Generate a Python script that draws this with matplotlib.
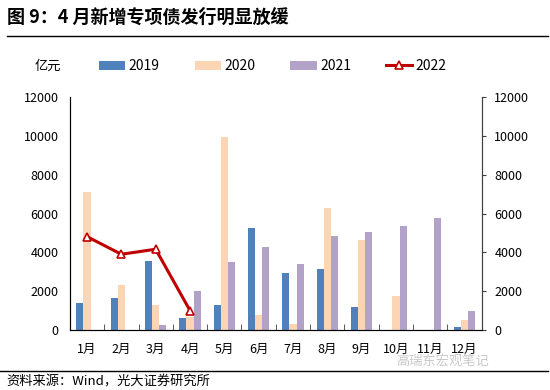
import matplotlib.pyplot as plt
import numpy as np

plt.rcParams['font.family'] = ['Noto Sans CJK SC', 'DejaVu Sans']

months = ['1月', '2月', '3月', '4月', '5月', '6月', '7月', '8月', '9月', '10月', '11月', '12月']
y2019 = [1380, 1630, 3540, 600, 1270, 5240, 2950, 3150, 1200, 0, 0, 140]
y2020 = [7110, 2320, 1290, 650, 9950, 770, 310, 6290, 4640, 1770, 0, 520]
y2021 = [0, 0, 240, 2030, 3490, 4280, 3390, 4860, 5070, 5340, 5760, 980]
y2022 = [4810, 3900, 4160, 1000]
yticks = [0, 2000, 4000, 6000, 8000, 10000, 12000]

fig = plt.figure(figsize=(5.5, 3.9), dpi=100)
ax = fig.add_axes([0.127, 0.154, 0.749, 0.597])
x = np.arange(len(months))
w = 0.21
b1 = ax.bar(x - w, y2019, w, color='#4F81BD', label='2019')
b2 = ax.bar(x, y2020, w, color='#FCD5B5', label='2020')
b3 = ax.bar(x + w, y2021, w, color='#B3A2C7', label='2021')
l4, = ax.plot(x[:len(y2022)], y2022, color='#C00000', lw=2.2, marker='^', ms=6,
              mfc='white', mec='#C00000', mew=1.2, label='2022')

ax.set_xlim(-0.5, 11.5)
ax.set_ylim(0, 12000)
ax.set_yticks(yticks)
ax.set_xticks(x)
ax.set_xticklabels(months, fontsize=9)
ax.set_xticks(np.arange(0.5, 11, 1), minor=True)
ax.tick_params(axis='x', which='major', length=0, pad=9)
ax.tick_params(axis='x', which='minor', direction='in', length=4, color='#404040')
ax.tick_params(axis='y', labelsize=9, length=0, pad=8)
ax.spines['top'].set_visible(False)
for s in ['left', 'bottom', 'right']:
    ax.spines[s].set_color('#404040')

ax2 = ax.twinx()
ax2.set_ylim(0, 12000)
ax2.set_yticks(yticks)
ax2.tick_params(axis='y', labelsize=9, length=3, color='#404040', pad=6)
ax2.spines['top'].set_visible(False)
ax2.spines['right'].set_color('#404040')

fig.text(0.012, 0.955, '图 9：4 月新增专项债发行明显放缓', fontsize=13, fontweight='bold', va='center')
fig.add_artist(plt.Line2D([0.012, 0.997], [0.908, 0.908], color='black', lw=1))
fig.text(0.063, 0.83, '亿元', fontsize=9.5, va='center')
fig.legend(handles=[b1, b2, b3, l4], loc='center left', bbox_to_anchor=(0.18, 0.83),
           ncol=4, frameon=False, fontsize=10, handlelength=1.9, handletextpad=0.25,
           columnspacing=2.5, borderaxespad=0, borderpad=0)

fig.add_artist(plt.Line2D([0.0, 0.997], [0.05, 0.05], color='black', lw=1))
fig.text(0.72, 0.073, '高瑞东宏观笔记', fontsize=9.5, color='#c8c8c8', va='center')
fig.text(0.012, 0.02, '资料来源：Wind，光大证券研究所', fontsize=9.5, va='center')

plt.savefig('out.png', dpi=100)
